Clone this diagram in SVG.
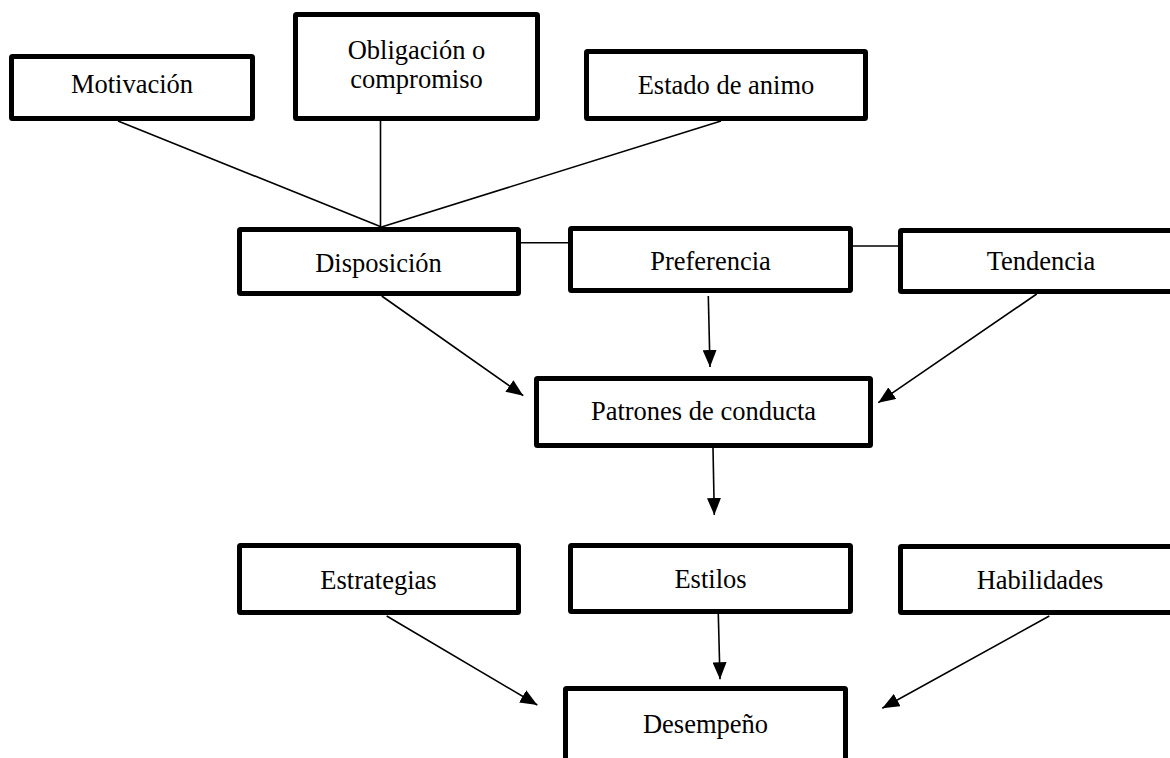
<svg xmlns="http://www.w3.org/2000/svg" width="1170" height="758" viewBox="0 0 1170 758">
  <style>
    .box { fill: #ffffff; stroke: #000000; stroke-width: 5; stroke-linejoin: round; }
    .lbl { font-family: "Liberation Serif", "Times New Roman", serif; font-size: 26.5px; fill: #000000; text-anchor: middle; }
    .ln { stroke: #000000; stroke-width: 1.6; fill: none; }
    .arr { stroke: #000000; stroke-width: 1.6; fill: none; marker-end: url(#ah); }
  </style>
  <defs>
    <marker id="ah" markerWidth="17" markerHeight="14" refX="17" refY="7" orient="auto" markerUnits="userSpaceOnUse">
      <path d="M0,0 L17,7 L0,14 Z" fill="#000000"/>
    </marker>
  </defs>
  <rect x="0" y="0" width="1170" height="758" fill="#ffffff"/>

  <g id="connectors">
    <line class="ln" x1="118" y1="121" x2="381.5" y2="227"/>
    <line class="ln" x1="380.5" y1="121" x2="380.5" y2="227" stroke-width="1.2"/>
    <line class="ln" x1="721" y1="121" x2="381.5" y2="227"/>
    <line class="ln" x1="521" y1="242.7" x2="568" y2="242.7"/>
    <line class="ln" x1="853" y1="246" x2="898" y2="246"/>
    <line class="arr" x1="381.7" y1="296" x2="523.3" y2="395.7"/>
    <line class="arr" x1="708.3" y1="296" x2="710" y2="367"/>
    <line class="arr" x1="1036.7" y1="294" x2="878.3" y2="402.7"/>
    <line class="arr" x1="713" y1="448" x2="714.3" y2="515"/>
    <line class="arr" x1="386.7" y1="616" x2="537.3" y2="705"/>
    <line class="arr" x1="718.3" y1="614" x2="720" y2="679.3"/>
    <line class="arr" x1="1049.3" y1="616" x2="882.3" y2="708.3"/>
  </g>

  <g id="motivacion">
    <rect class="box" x="11.5" y="56.5" width="241" height="62" rx="1"/>
    <text class="lbl" x="132" y="93">Motivación</text>
  </g>
  <g id="obligacion">
    <rect class="box" x="295.5" y="14.5" width="242" height="104" rx="1"/>
    <text class="lbl" x="416.5" y="58.5">Obligación o</text>
    <text class="lbl" x="416.5" y="87.5">compromiso</text>
  </g>
  <g id="estado">
    <rect class="box" x="586.5" y="51.5" width="279" height="67" rx="1"/>
    <text class="lbl" x="726" y="94">Estado de animo</text>
  </g>
  <g id="disposicion">
    <rect class="box" x="239.5" y="229.5" width="279" height="64" rx="1"/>
    <text class="lbl" x="378.5" y="271.5">Disposición</text>
  </g>
  <g id="preferencia">
    <rect class="box" x="570.5" y="228.5" width="280" height="62" rx="1"/>
    <text class="lbl" x="710.5" y="269.5">Preferencia</text>
  </g>
  <g id="tendencia">
    <rect class="box" x="900.5" y="230.5" width="281" height="61" rx="1"/>
    <text class="lbl" x="1041" y="270">Tendencia</text>
  </g>
  <g id="patrones">
    <rect class="box" x="536.5" y="378.5" width="334" height="67" rx="1"/>
    <text class="lbl" x="703.5" y="420">Patrones de conducta</text>
  </g>
  <g id="estrategias">
    <rect class="box" x="239.5" y="545.5" width="279" height="67" rx="1"/>
    <text class="lbl" x="378.5" y="588.5">Estrategias</text>
  </g>
  <g id="estilos">
    <rect class="box" x="570.5" y="545.5" width="280" height="66" rx="1"/>
    <text class="lbl" x="710.5" y="588">Estilos</text>
  </g>
  <g id="habilidades">
    <rect class="box" x="900.5" y="546.5" width="281" height="66" rx="1"/>
    <text class="lbl" x="1040" y="589">Habilidades</text>
  </g>
  <g id="desempeno">
    <rect class="box" x="565.5" y="688.5" width="280" height="100" rx="1"/>
    <text class="lbl" x="705.5" y="733">Desempeño</text>
  </g>
</svg>
